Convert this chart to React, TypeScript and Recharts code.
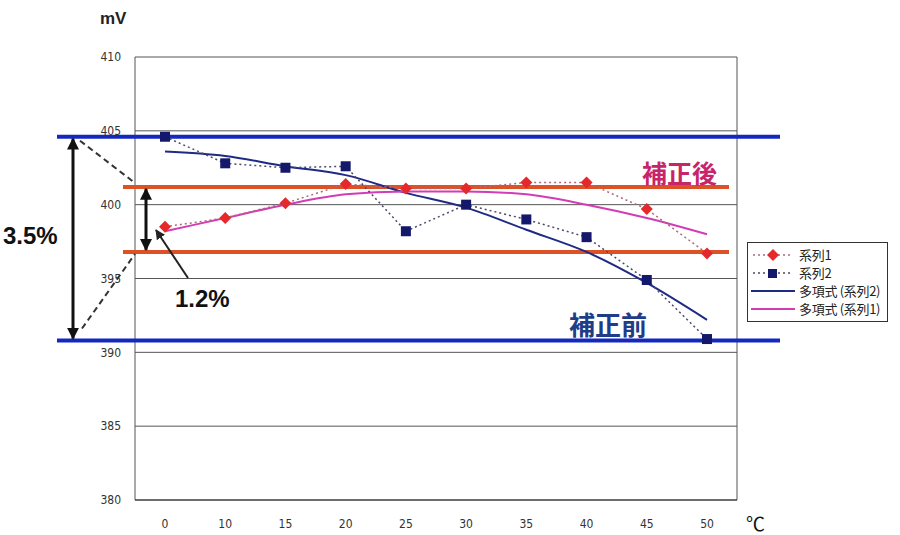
import React from 'react'
import {
    ComposedChart,
    Line,
    XAxis,
    YAxis,
    CartesianGrid,
    ReferenceLine,
    Legend,
} from 'recharts'

// temperature (°C) categories
const categories = ['0', '10', '15', '20', '25', '30', '35', '40', '45', '50']
// 系列1 : after correction (mV)
const series1 = [398.5, 399.1, 400.1, 401.4, 401.1, 401.1, 401.5, 401.5, 399.7, 396.7]
// 系列2 : before correction (mV)
const series2 = [404.6, 402.8, 402.5, 402.6, 398.2, 400.0, 399.0, 397.8, 394.9, 390.9]
// polynomial trend lines
const trend2 = [403.6, 403.3, 402.6, 402.0, 400.8, 399.8, 398.3, 396.8, 394.7, 392.2]
const trend1 = [398.2, 399.1, 400.0, 400.7, 400.9, 400.9, 400.7, 400.0, 399.1, 398.0]
const yTicks = [380, 385, 390, 395, 400, 405, 410]

// band limits (mV)
const beforeHigh = 404.6
const beforeLow = 390.8
const afterHigh = 401.2
const afterLow = 396.8

const data = categories.map((c, i) => ({
    temp: c,
    s1: series1[i],
    s2: series2[i],
    t2: trend2[i],
    t1: trend1[i],
}))

const W = 900
const H = 535
const MARGIN = { top: 57, right: 163, bottom: 5, left: 85 }
const Y_AXIS_W = 50
const X_AXIS_H = 30
const Y_MIN = 380
const Y_MAX = 410
const PLOT_H = H - MARGIN.top - MARGIN.bottom - X_AXIS_H

// only used for the hand-drawn annotations outside the plot
const yPix = (v: number) => MARGIN.top + ((Y_MAX - v) / (Y_MAX - Y_MIN)) * PLOT_H

const RED = '#e4282c'
const NAVY = '#14186a'
const BLUE = '#1428c0'
const ORANGE = '#dc5226'
const MAGENTA = '#d23cb4'
const TREND_NAVY = '#1e2a84'

const tickFont = {
    fontFamily: '"Liberation Sans Narrow", "DejaVu Sans Condensed", sans-serif',
    fontSize: 12,
    fill: '#333',
}

const Diamond = (props: any) => {
    const { cx, cy } = props
    if (cx == null || cy == null) return null
    const r = 6
    return (
        <polygon
            points={`${cx},${cy - r} ${cx + r},${cy} ${cx},${cy + r} ${cx - r},${cy}`}
            fill={RED}
        />
    )
}

const Square = (props: any) => {
    const { cx, cy } = props
    if (cx == null || cy == null) return null
    return <rect x={cx - 5} y={cy - 5} width={10} height={10} fill={NAVY} />
}

const wideLine = (color: string, extLeft: number, extRight: number) => (props: any) => (
    <line
        x1={props.x1 - extLeft}
        x2={props.x2 + extRight}
        y1={props.y1}
        y2={props.y2}
        stroke={color}
        strokeWidth={4}
    />
)

const LEGEND_ORDER = ['s1', 's2', 't2', 't1']
const legendIcon: Record<string, (c: string) => React.ReactNode> = {
    s1: (c) => (
        <>
            <line x1={2} x2={42} y1={7} y2={7} stroke={c} strokeWidth={1.5} strokeDasharray="2 3" />
            <polygon points="22,1 28,7 22,13 16,7" fill={RED} />
        </>
    ),
    s2: (c) => (
        <>
            <line x1={2} x2={42} y1={7} y2={7} stroke={c} strokeWidth={1.5} strokeDasharray="2 3" />
            <rect x={17} y={3} width={9} height={9} fill={NAVY} />
        </>
    ),
    t2: (c) => <line x1={0} x2={44} y1={7} y2={7} stroke={c} strokeWidth={2} />,
    t1: (c) => <line x1={0} x2={44} y1={7} y2={7} stroke={c} strokeWidth={2} />,
}

const renderLegend = (props: any) => {
    const items = [...(props.payload || [])].sort(
        (a: any, b: any) => LEGEND_ORDER.indexOf(a.dataKey) - LEGEND_ORDER.indexOf(b.dataKey)
    )
    return (
        <div
            style={{
                border: '1px solid #333',
                background: '#fff',
                padding: '3px 2px 3px 3px',
                fontFamily: '"Noto Sans CJK JP", sans-serif',
                fontSize: 13,
                color: '#222',
                lineHeight: '18px',
                whiteSpace: 'nowrap',
                boxSizing: 'border-box',
            }}
        >
            {items.map((it: any) => (
                <div key={it.dataKey} style={{ display: 'flex', alignItems: 'center', height: 18 }}>
                    <svg width={46} height={14} style={{ marginRight: 2, flexShrink: 0 }}>
                        {legendIcon[it.dataKey](it.color)}
                    </svg>
                    <span style={{ letterSpacing: -0.3 }}>{it.value}</span>
                </div>
            ))}
        </div>
    )
}

const Annotations = () => {
    const yBH = yPix(beforeHigh)
    const yBL = yPix(beforeLow)
    const yAH = yPix(afterHigh)
    const yAL = yPix(afterLow)
    const bold = { fontFamily: '"Liberation Sans", Arial, sans-serif', fontWeight: 700 }
    const cjk = { fontFamily: '"Noto Sans CJK JP", sans-serif', fontWeight: 700 }
    return (
        <svg
            width={W}
            height={H}
            style={{ position: 'absolute', left: 0, top: 0, pointerEvents: 'none' }}
        >
            <defs>
                <marker
                    id="head"
                    viewBox="0 0 10 10"
                    refX="9"
                    refY="5"
                    markerWidth="4"
                    markerHeight="4"
                    orient="auto-start-reverse"
                >
                    <path d="M0,0 L10,5 L0,10 z" fill="#111" />
                </marker>
                <marker
                    id="headThin"
                    viewBox="0 0 10 10"
                    refX="9"
                    refY="5"
                    markerWidth="5"
                    markerHeight="5"
                    orient="auto"
                >
                    <path d="M0,0 L10,5 L0,10 z" fill="#222" />
                </marker>
            </defs>

            <text x={100} y={18} dominantBaseline="central" fontSize={17} fill="#222" {...bold}>
                mV
            </text>

            {/* 3.5% span */}
            <line x1={80} y1={yBH + 4} x2={135} y2={yAH - 4} stroke="#333" strokeWidth={2} strokeDasharray="6 4" />
            <line x1={82} y1={yBL - 12} x2={135} y2={yAL + 2} stroke="#333" strokeWidth={2} strokeDasharray="6 4" />
            <line
                x1={73}
                y1={yBH + 2}
                x2={73}
                y2={yBL - 2}
                stroke="#111"
                strokeWidth={3}
                markerStart="url(#head)"
                markerEnd="url(#head)"
            />
            <text x={3} y={235} dominantBaseline="central" fontSize={24} fill="#111" {...bold}>
                3.5%
            </text>

            {/* 1.2% span */}
            <line
                x1={146}
                y1={yAH + 2}
                x2={146}
                y2={yAL - 2}
                stroke="#111"
                strokeWidth={3}
                markerStart="url(#head)"
                markerEnd="url(#head)"
            />
            <line x1={188} y1={278} x2={156} y2={230} stroke="#222" strokeWidth={2} markerEnd="url(#headThin)" />
            <text x={175} y={298} dominantBaseline="central" fontSize={24} fill="#111" {...bold}>
                1.2%
            </text>

            <text x={642} y={172} dominantBaseline="central" fontSize={25} fill="#c8246a" {...cjk}>
                補正後
            </text>
            <text x={569} y={323} dominantBaseline="central" fontSize={26} fill="#1f3c88" {...cjk}>
                補正前
            </text>

            <text x={746} y={522} dominantBaseline="central" fontSize={19} fill="#111" {...cjk} fontWeight={400}>
                ℃
            </text>
        </svg>
    )
}

const App: React.FC = () => {
    return (
        <div style={{ position: 'absolute', left: 0, top: 0, width: W, height: H, background: '#fff' }}>
            <ComposedChart width={W} height={H} data={data} margin={MARGIN}>
                <CartesianGrid
                    stroke="#555"
                    strokeWidth={1}
                    verticalCoordinatesGenerator={({ offset }: any) => [
                        offset.left,
                        offset.left + offset.width,
                    ]}
                />
                <XAxis
                    dataKey="temp"
                    height={X_AXIS_H}
                    padding={{ left: 30, right: 30 }}
                    tickLine={false}
                    tickMargin={13}
                    axisLine={{ stroke: '#333' }}
                    tick={tickFont}
                    interval={0}
                />
                <YAxis
                    domain={[Y_MIN, Y_MAX]}
                    ticks={yTicks}
                    width={Y_AXIS_W}
                    axisLine={false}
                    tickLine={false}
                    tickMargin={8}
                    tick={tickFont}
                    allowDataOverflow
                />
                <ReferenceLine y={beforeHigh} shape={wideLine(BLUE, 78, 43)} />
                <ReferenceLine y={beforeLow} shape={wideLine(BLUE, 78, 43)} />
                <ReferenceLine y={afterHigh} shape={wideLine(ORANGE, 12, -8)} />
                <ReferenceLine y={afterLow} shape={wideLine(ORANGE, 12, -8)} />
                <Line
                    dataKey="t2"
                    name="多項式 (系列2)"
                    type="monotone"
                    stroke={TREND_NAVY}
                    strokeWidth={2}
                    dot={false}
                    isAnimationActive={false}
                />
                <Line
                    dataKey="t1"
                    name="多項式 (系列1)"
                    type="monotone"
                    stroke={MAGENTA}
                    strokeWidth={2}
                    dot={false}
                    isAnimationActive={false}
                />
                <Line
                    dataKey="s1"
                    name="系列1"
                    type="linear"
                    stroke="#b06878"
                    strokeWidth={1.5}
                    strokeDasharray="2 3"
                    dot={(p: any) => <Diamond key={`d-${p.index}`} {...p} />}
                    isAnimationActive={false}
                />
                <Line
                    dataKey="s2"
                    name="系列2"
                    type="linear"
                    stroke="#4a4a66"
                    strokeWidth={1.5}
                    strokeDasharray="2 3"
                    dot={(p: any) => <Square key={`s-${p.index}`} {...p} />}
                    isAnimationActive={false}
                />
                <Legend
                    layout="vertical"
                    align="center"
                    verticalAlign="middle"
                    wrapperStyle={{ left: 747, top: 242, width: 141 }}
                    content={renderLegend}
                />
            </ComposedChart>
            <Annotations />
        </div>
    )
}

export default App
